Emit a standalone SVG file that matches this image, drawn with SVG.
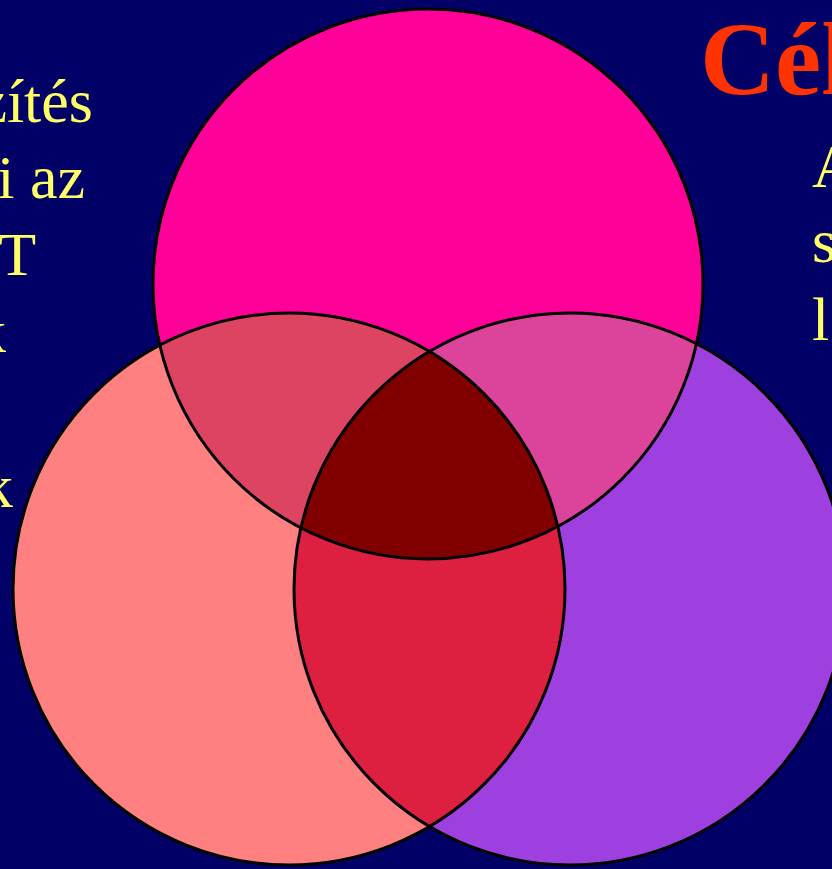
<svg xmlns="http://www.w3.org/2000/svg" width="832" height="869" viewBox="0 0 832 869">
<style>
.t{font-family:"Liberation Serif","Times New Roman",serif;fill:#FFFF66;font-size:62px}
.h{font-family:"Liberation Serif","Times New Roman",serif;fill:#FF3300;font-size:104px;font-weight:bold}
.o{fill:none;stroke:#000;stroke-width:3}
</style>
<defs>
<clipPath id="cT"><circle cx="428" cy="284" r="275"/></clipPath>
<clipPath id="cL"><circle cx="289" cy="589" r="276"/></clipPath>
<clipPath id="cR"><circle cx="570" cy="589" r="276"/></clipPath>
</defs>
<rect width="832" height="869" fill="#000066"/>
<g id="text-left">
<text class="t" x="93" y="122" text-anchor="end">zítés</text>
<text class="t" x="85" y="198" text-anchor="end">i az</text>
<text class="t" x="36" y="275" text-anchor="end">T</text>
<text class="t" x="6" y="352" text-anchor="end">k</text>
<text class="t" x="13" y="507" text-anchor="end">k</text>
</g>
<g id="text-right">
<text class="h" x="700" y="94">Cél</text>
<text class="t" x="812" y="187">A</text>
<text class="t" x="812" y="262">s</text>
<text class="t" x="812" y="340">l</text>
</g>
<g id="circle-top"><circle cx="428" cy="284" r="275" fill="#FF0099"/></g>
<g id="circle-left"><circle cx="289" cy="589" r="276" fill="#FF8080"/></g>
<g id="circle-right"><circle cx="570" cy="589" r="276" fill="#9E40DF"/></g>
<g id="overlap-top-left" clip-path="url(#cT)"><circle cx="289" cy="589" r="276" fill="#DC4462"/></g>
<g id="overlap-top-right" clip-path="url(#cT)"><circle cx="570" cy="589" r="276" fill="#DC449C"/></g>
<g id="overlap-left-right" clip-path="url(#cL)"><circle cx="570" cy="589" r="276" fill="#DE2040"/></g>
<g id="overlap-center" clip-path="url(#cT)"><g clip-path="url(#cL)"><circle cx="570" cy="589" r="276" fill="#800000"/></g></g>
<g id="outlines">
<circle class="o" cx="428" cy="284" r="275"/>
<circle class="o" cx="289" cy="589" r="276"/>
<circle class="o" cx="570" cy="589" r="276"/>
</g>
</svg>
